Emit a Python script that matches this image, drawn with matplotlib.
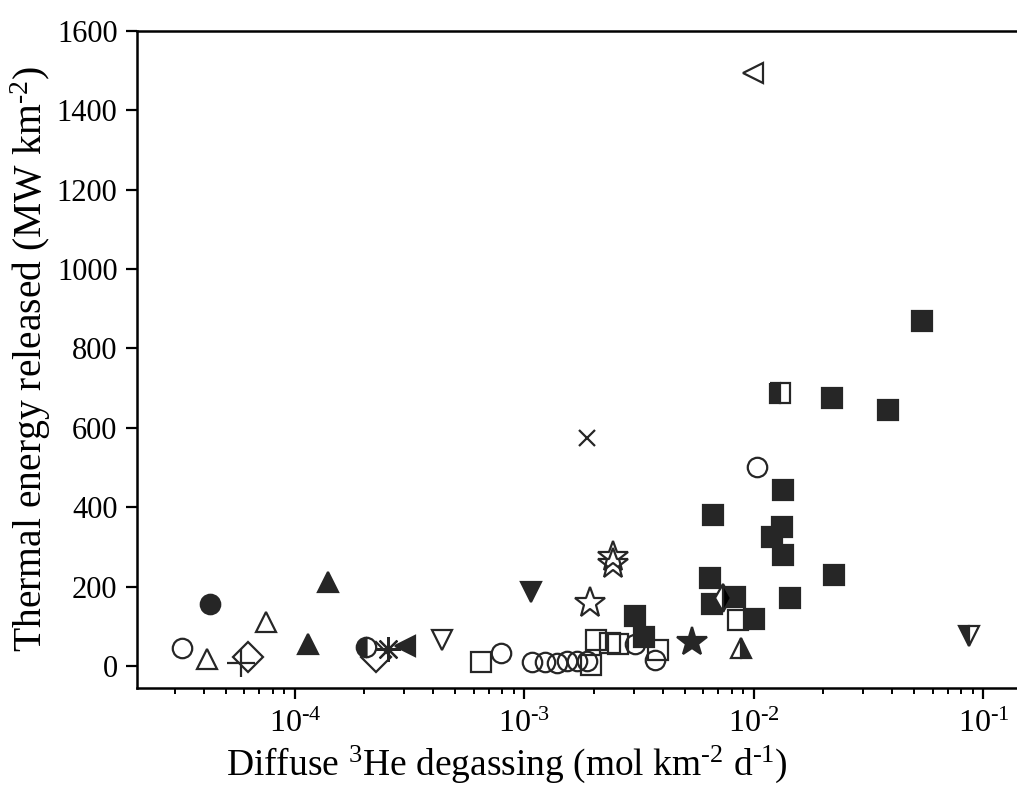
import matplotlib
matplotlib.use("Agg")
import matplotlib.pyplot as plt
from matplotlib.ticker import LogLocator, NullFormatter

plt.rcParams["font.family"] = ["Liberation Serif", "DejaVu Serif"]
plt.rcParams["mathtext.fontset"] = "custom"
plt.rcParams["mathtext.rm"] = "Liberation Serif"
plt.rcParams["mathtext.it"] = "Liberation Serif:italic"
plt.rcParams["mathtext.bf"] = "Liberation Serif:bold"

# Diffuse 3He flux (mol km-2 d-1) and thermal energy (MW km-2), one group per symbol
filled_sq_x = [3.03e-3, 3.33e-3, 6.65e-3, 6.43e-3, 6.55e-3, 8.27e-3, 1.00e-2, 1.34e-2,
               1.32e-2, 1.195e-2, 1.34e-2, 1.44e-2, 2.24e-2, 2.18e-2, 3.82e-2, 5.38e-2]
filled_sq_y = [126, 74, 381, 223, 157, 174, 120, 444, 350, 325, 281, 172, 230, 675, 646, 869]

open_sq_x = [6.44e-4, 1.95e-3, 2.05e-3, 2.36e-3, 2.56e-3, 3.83e-3, 8.55e-3]
open_sq_y = [11, 3, 65, 58, 56, 40, 116]

open_circ_x = [3.23e-5, 7.87e-4, 1.075e-3, 1.23e-3, 1.39e-3, 1.53e-3, 1.69e-3, 1.88e-3,
               3.03e-3, 3.70e-3, 1.03e-2]
open_circ_y = [45, 32, 11, 11, 9, 14, 13, 12, 55, 15, 501]

open_tri_up_x = [4.12e-5, 7.48e-5]
open_tri_up_y = [17, 110]

filled_circ_x = [4.26e-5]
filled_circ_y = [156]

filled_tri_up_x = [1.40e-4, 1.14e-4]
filled_tri_up_y = [212, 55]

plus_x = [5.8e-5]
plus_y = [7]

open_diam_x = [6.26e-5, 2.25e-4]
open_diam_y = [22, 22]

half_circ_x = [2.05e-4]
half_circ_y = [48]

aster_x = [2.55e-4]
aster_y = [44]

filled_tri_left_x = [3.01e-4]
filled_tri_left_y = [50]

open_tri_down_x = [4.36e-4]
open_tri_down_y = [65]

filled_tri_down_x = [1.064e-3]
filled_tri_down_y = [187]

open_star_x = [1.93e-3, 2.44e-3, 2.44e-3]
open_star_y = [159, 275, 258]

cross_x = [1.866e-3]
cross_y = [575]

filled_star_x = [5.35e-3]
filled_star_y = [61]

half_tri_up_x = [8.78e-3]
half_tri_up_y = [47]

half_diam_x = [7.35e-3]
half_diam_y = [172]

half_sq_x = [1.30e-2]
half_sq_y = [688]

half_tri_down_x = [8.67e-2]
half_tri_down_y = [75]

open_tri_left_x = [9.93e-3]
open_tri_left_y = [1493]

x_ticks = [1e-4, 1e-3, 1e-2, 1e-1]
x_tick_labels = [r"$10^{\text{-}4}$", r"$10^{\text{-}3}$", r"$10^{\text{-}2}$", r"$10^{\text{-}1}$"]
y_ticks = [0, 200, 400, 600, 800, 1000, 1200, 1400, 1600]

INK = "#262626"
MEW = 1.6

fig = plt.figure(figsize=(10.17, 7.92), dpi=100)
ax = fig.add_axes([0.1347, 0.1313, 0.8653, 0.8299])


def pts(x, y, marker, ms, fill="none", **kw):
    ax.plot(x, y, linestyle="none", marker=marker, markersize=ms,
            markerfacecolor=fill, markeredgecolor=INK, markeredgewidth=MEW,
            color=INK, **kw)


# open symbols
pts(open_circ_x, open_circ_y, "o", 14)
pts(open_sq_x, open_sq_y, "s", 15)
pts(open_tri_up_x, open_tri_up_y, "^", 15)
pts(open_diam_x, open_diam_y, "D", 15)
pts(open_tri_down_x, open_tri_down_y, "v", 15)
pts(open_star_x, open_star_y, "*", 23)
pts(open_tri_left_x, open_tri_left_y, "<", 15)
pts(plus_x, plus_y, "+", 20)
pts(cross_x, cross_y, "x", 12)
pts(aster_x, aster_y, (8, 2, 0), 18)

# filled symbols
pts(filled_sq_x, filled_sq_y, "s", 15, fill=INK)
pts(filled_circ_x, filled_circ_y, "o", 14, fill=INK)
pts(filled_tri_up_x, filled_tri_up_y, "^", 15, fill=INK)
pts(filled_tri_left_x, filled_tri_left_y, "<", 15, fill=INK)
pts(filled_tri_down_x, filled_tri_down_y, "v", 15, fill=INK)
pts(filled_star_x, filled_star_y, "*", 22, fill=INK)

# half-filled symbols
pts(half_circ_x, half_circ_y, "o", 14, fill=INK, fillstyle="left", markerfacecoloralt="white")
pts(half_tri_up_x, half_tri_up_y, "^", 15, fill=INK, fillstyle="right", markerfacecoloralt="white")
pts(half_diam_x, half_diam_y, "d", 14, fill="black", fillstyle="right", markerfacecoloralt="white")
pts(half_sq_x, half_sq_y, "s", 15, fill=INK, fillstyle="left", markerfacecoloralt="white")
pts(half_tri_down_x, half_tri_down_y, "v", 15, fill=INK, fillstyle="left", markerfacecoloralt="white")

ax.set_xscale("log")
ax.set_xlim(2.05e-5, 0.140)
ax.set_ylim(-55, 1600)
ax.set_xticks(x_ticks)
ax.set_xticklabels(x_tick_labels)
ax.xaxis.set_minor_locator(LogLocator(base=10, subs=range(2, 10), numticks=20))
ax.xaxis.set_minor_formatter(NullFormatter())
ax.set_yticks(y_ticks)

for side in ("left", "bottom", "top"):
    ax.spines[side].set_linewidth(1.8)
ax.spines["right"].set_visible(False)

ax.tick_params(axis="both", which="major", direction="out", length=8, width=1.6,
               labelsize=22, pad=6)
ax.tick_params(axis="x", which="minor", direction="out", length=4.5, width=1.4)
ax.tick_params(axis="x", which="major", pad=8, labelsize=23)

ax.set_xlabel(r"Diffuse $^{3}$He degassing (mol km$^{\text{-}2}$ d$^{\text{-}1}$)", fontsize=27)
ax.set_ylabel(r"Thermal energy released (MW km$^{\text{-}2}$)", fontsize=28.5)
ax.xaxis.set_label_coords(0.42, -0.085)
ax.yaxis.set_label_coords(-0.095, 0.5)

fig.savefig("out.png", dpi=100)
